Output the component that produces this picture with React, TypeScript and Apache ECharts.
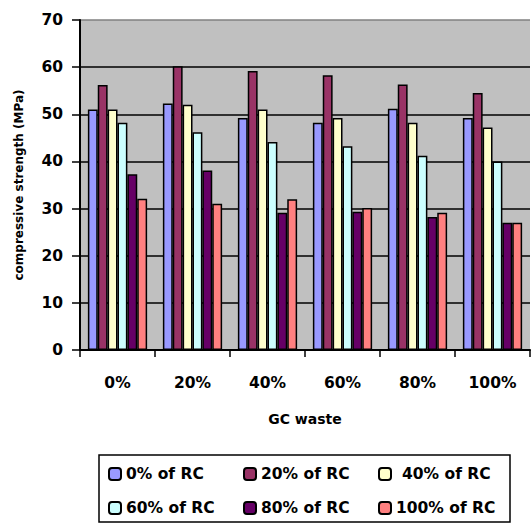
import React, { useEffect, useRef } from "react";
import * as echarts from "echarts";

const categories = ["0%", "20%", "40%", "60%", "80%", "100%"];
const seriesNames = ["0% of RC", "20% of RC", "40% of RC", "60% of RC", "80% of RC", "100% of RC"];
const rc0 = [51, 52.3, 49.2, 48.2, 51.2, 49.2];
const rc20 = [56.2, 60.2, 59.2, 58.3, 56.3, 54.5];
const rc40 = [51, 52, 51, 49.2, 48.2, 47.2];
const rc60 = [48.2, 46.2, 44.1, 43.2, 41.2, 40];
const rc80 = [37.3, 38.1, 29.1, 29.3, 28.2, 27];
const rc100 = [32.1, 31, 32, 30.1, 29.1, 27];
const seriesValues = [rc0, rc20, rc40, rc60, rc80, rc100];
const colors = ["#9999FF", "#993366", "#FFFFCC", "#CCFFFF", "#660066", "#FF8080"];

const FONT = "DejaVu Sans";

export default function App() {
  const ref = useRef<HTMLDivElement>(null);
  useEffect(() => {
    if (!ref.current) return;
    const chart = echarts.init(ref.current, undefined, { renderer: "svg" });
    const legendPos = [
      { left: 108, top: 466 },
      { left: 243, top: 466 },
      { left: 378, top: 466 },
      { left: 108, top: 500 },
      { left: 243, top: 500 },
      { left: 378, top: 500 },
    ];
    chart.setOption({
      animation: false,
      backgroundColor: "#fff",
      grid: {
        left: 80,
        top: 20,
        width: 450,
        height: 330,
        show: true,
        backgroundColor: "#C0C0C0",
        borderWidth: 0,
      },
      legend: seriesNames.map((n, i) => ({
        data: [n],
        left: legendPos[i].left,
        top: legendPos[i].top,
        padding: 0,
        itemWidth: 12,
        itemHeight: 12,
        selectedMode: false,
        textStyle: {
          fontFamily: FONT,
          fontWeight: "bold",
          fontSize: 15.5,
          color: "#000",
          padding: i === 2 ? [0, 0, 0, 6] : 0,
        },
      })),
      xAxis: {
        type: "category",
        data: categories,
        axisLine: { show: true, lineStyle: { color: "#000", width: 2 } },
        axisTick: { show: true, length: 7, interval: 0, lineStyle: { color: "#000", width: 1.5 } },
        axisLabel: {
          interval: 0,
          margin: 25,
          fontFamily: FONT,
          fontWeight: "bold",
          fontSize: 15.5,
          color: "#000",
        },
        name: "GC waste",
        nameLocation: "middle",
        nameGap: 62,
        nameTextStyle: { fontFamily: FONT, fontWeight: "bold", fontSize: 14, color: "#000", verticalAlign: "top" },
      },
      yAxis: {
        type: "value",
        min: 0,
        max: 70,
        interval: 10,
        axisLine: { show: true, lineStyle: { color: "#000", width: 2 } },
        axisTick: { show: true, length: 8, lineStyle: { color: "#000", width: 1.5 } },
        axisLabel: {
          margin: 17,
          fontFamily: FONT,
          fontWeight: "bold",
          fontSize: 15.5,
          color: "#000",
        },
        splitLine: {
          show: true,
          lineStyle: {
            color: ["#000", "#000", "#000", "#000", "#000", "#000", "#000", "#808080"],
            width: 1.5,
          },
        },
        name: "compressive strength (MPa)",
        nameLocation: "middle",
        nameGap: 55,
        nameTextStyle: { fontFamily: FONT, fontWeight: "bold", fontSize: 12, color: "#000" },
      },
      graphic: [
        {
          type: "rect",
          shape: { x: 99, y: 455, width: 411, height: 67 },
          style: { fill: "none", stroke: "#000", lineWidth: 1.5 },
          z: 10,
        },
      ],
      series: seriesNames.map((n, i) => ({
        name: n,
        type: "bar",
        data: seriesValues[i],
        barGap: "0%",
        barCategoryGap: "21%",
        itemStyle: { color: colors[i], borderColor: "#000", borderWidth: 1.5 },
      })),
    });
    return () => chart.dispose();
  }, []);
  return (
    <div
      ref={ref}
      style={{ position: "fixed", left: 0, top: 0, width: 531, height: 524 }}
    />
  );
}
